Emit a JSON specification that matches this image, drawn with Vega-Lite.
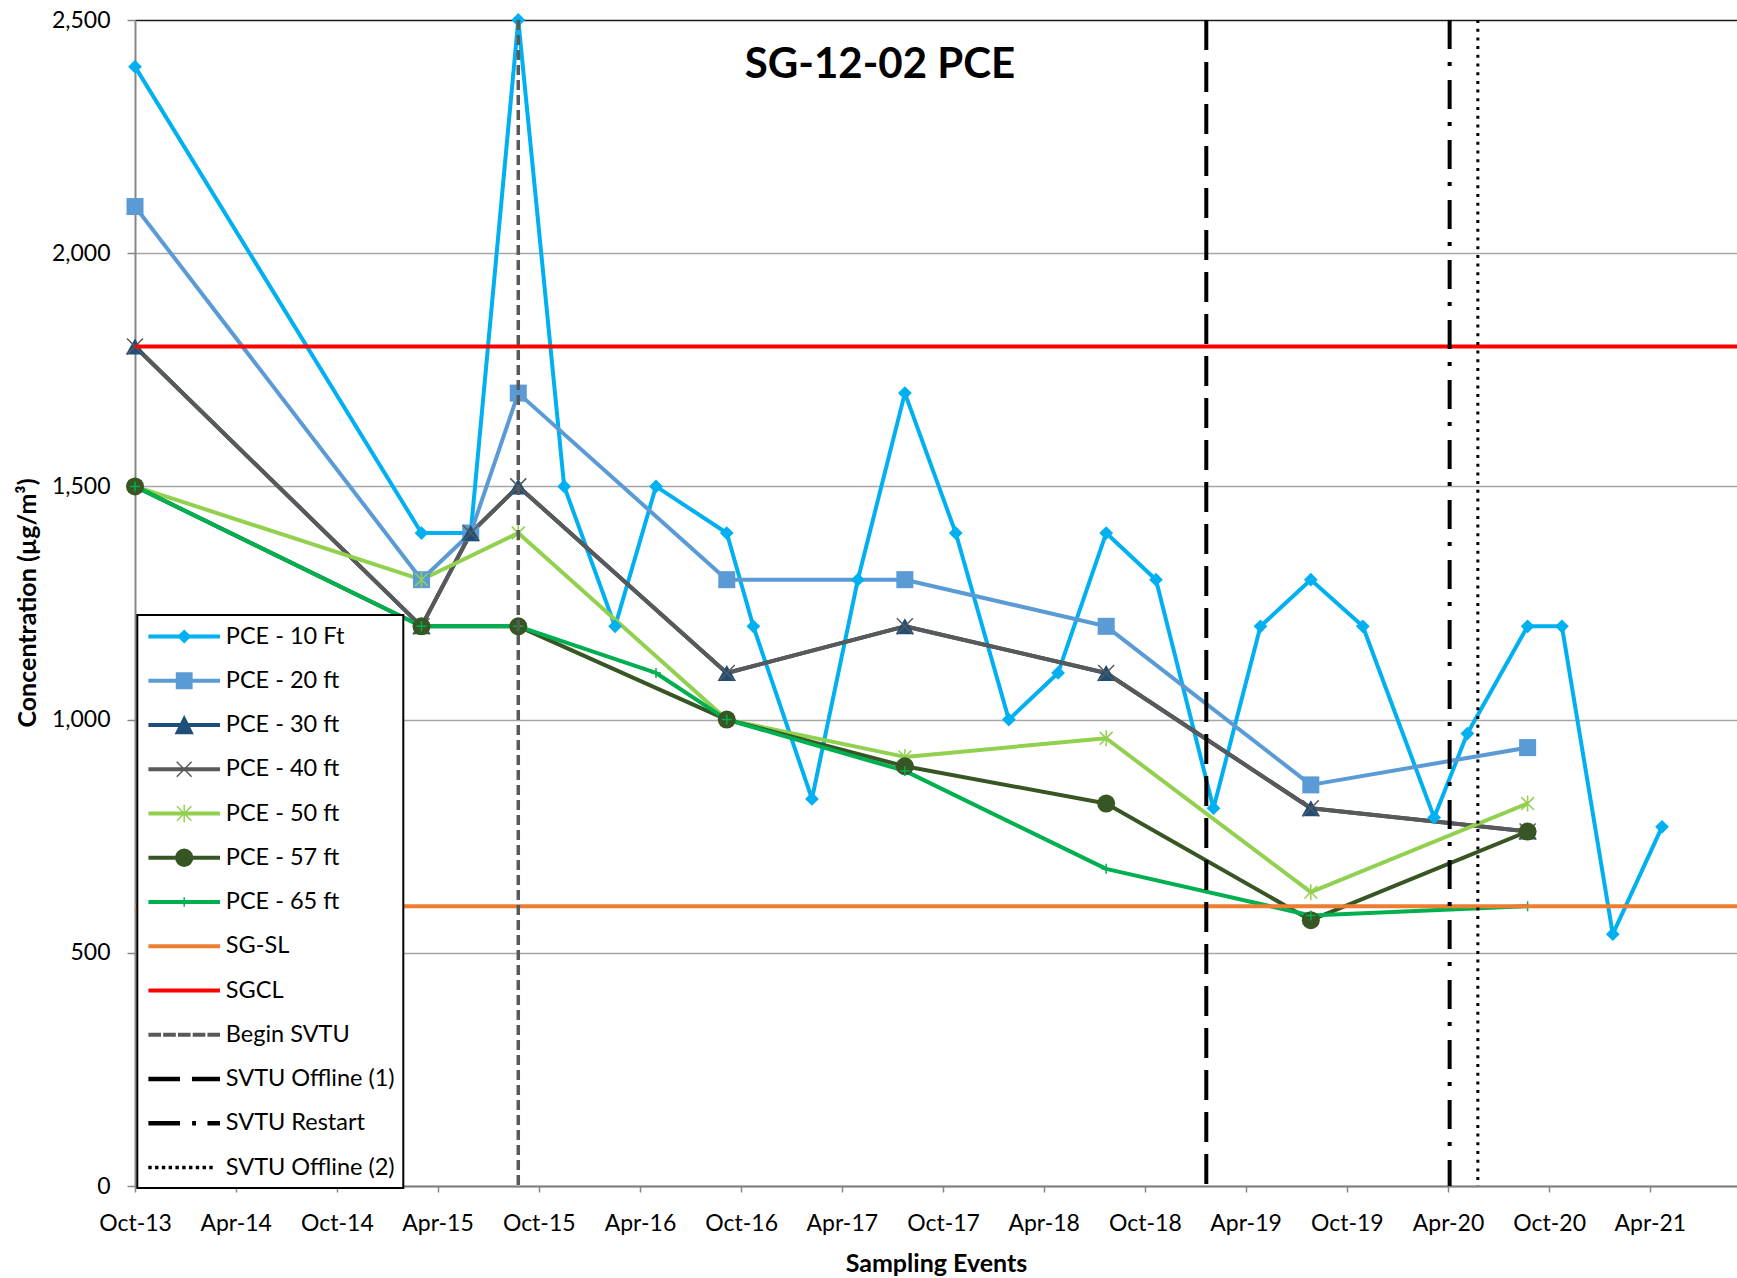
{
  "$schema": "https://vega.github.io/schema/vega-lite/v6.json",
  "autosize": "none",
  "width": 1602,
  "height": 1166,
  "padding": {"left": 135, "top": 20, "right": 0, "bottom": 92},
  "background": "white",
  "config": {
    "view": {"stroke": null},
    "font": "Lato",
    "legend": {"strokeWidth": 2}
  },
  "title": {
    "text": "SG-12-02 PCE",
    "font": "Lato",
    "fontSize": 42,
    "fontWeight": "bold",
    "color": "black",
    "anchor": "middle",
    "frame": "group",
    "orient": "top",
    "offset": 0,
    "dx": -56,
    "dy": 111,
    "baseline": "alphabetic"
  },
  "datasets": {
    "pts": [
      {"s": "PCE - 10 Ft", "d": "2013-10-01", "v": 2400},
      {"s": "PCE - 10 Ft", "d": "2015-03-03", "v": 1400},
      {"s": "PCE - 10 Ft", "d": "2015-05-31", "v": 1400},
      {"s": "PCE - 10 Ft", "d": "2015-08-25", "v": 2500},
      {"s": "PCE - 10 Ft", "d": "2015-11-16", "v": 1500},
      {"s": "PCE - 10 Ft", "d": "2016-02-16", "v": 1200},
      {"s": "PCE - 10 Ft", "d": "2016-04-30", "v": 1500},
      {"s": "PCE - 10 Ft", "d": "2016-09-05", "v": 1400},
      {"s": "PCE - 10 Ft", "d": "2016-10-23", "v": 1200},
      {"s": "PCE - 10 Ft", "d": "2017-02-06", "v": 830},
      {"s": "PCE - 10 Ft", "d": "2017-04-30", "v": 1300},
      {"s": "PCE - 10 Ft", "d": "2017-07-24", "v": 1700},
      {"s": "PCE - 10 Ft", "d": "2017-10-24", "v": 1400},
      {"s": "PCE - 10 Ft", "d": "2018-01-28", "v": 1000},
      {"s": "PCE - 10 Ft", "d": "2018-04-27", "v": 1100},
      {"s": "PCE - 10 Ft", "d": "2018-07-23", "v": 1400},
      {"s": "PCE - 10 Ft", "d": "2018-10-21", "v": 1300},
      {"s": "PCE - 10 Ft", "d": "2019-02-02", "v": 810},
      {"s": "PCE - 10 Ft", "d": "2019-04-28", "v": 1200},
      {"s": "PCE - 10 Ft", "d": "2019-07-28", "v": 1300},
      {"s": "PCE - 10 Ft", "d": "2019-10-30", "v": 1200},
      {"s": "PCE - 10 Ft", "d": "2020-03-07", "v": 790},
      {"s": "PCE - 10 Ft", "d": "2020-05-06", "v": 970},
      {"s": "PCE - 10 Ft", "d": "2020-08-23", "v": 1200},
      {"s": "PCE - 10 Ft", "d": "2020-10-24", "v": 1200},
      {"s": "PCE - 10 Ft", "d": "2021-01-24", "v": 540},
      {"s": "PCE - 10 Ft", "d": "2021-04-23", "v": 770},
      {"s": "PCE - 20 ft", "d": "2013-10-01", "v": 2100},
      {"s": "PCE - 20 ft", "d": "2015-03-03", "v": 1300},
      {"s": "PCE - 20 ft", "d": "2015-05-31", "v": 1400},
      {"s": "PCE - 20 ft", "d": "2015-08-25", "v": 1700},
      {"s": "PCE - 20 ft", "d": "2016-09-05", "v": 1300},
      {"s": "PCE - 20 ft", "d": "2017-07-24", "v": 1300},
      {"s": "PCE - 20 ft", "d": "2018-07-23", "v": 1200},
      {"s": "PCE - 20 ft", "d": "2019-07-28", "v": 860},
      {"s": "PCE - 20 ft", "d": "2020-08-23", "v": 940},
      {"s": "PCE - 30 ft", "d": "2013-10-01", "v": 1800},
      {"s": "PCE - 30 ft", "d": "2015-03-03", "v": 1200},
      {"s": "PCE - 30 ft", "d": "2015-05-31", "v": 1400},
      {"s": "PCE - 30 ft", "d": "2015-08-25", "v": 1500},
      {"s": "PCE - 30 ft", "d": "2016-09-05", "v": 1100},
      {"s": "PCE - 30 ft", "d": "2017-07-24", "v": 1200},
      {"s": "PCE - 30 ft", "d": "2018-07-23", "v": 1100},
      {"s": "PCE - 30 ft", "d": "2019-07-28", "v": 810},
      {"s": "PCE - 30 ft", "d": "2020-08-23", "v": 760},
      {"s": "PCE - 40 ft", "d": "2013-10-01", "v": 1800},
      {"s": "PCE - 40 ft", "d": "2015-03-03", "v": 1200},
      {"s": "PCE - 40 ft", "d": "2015-05-31", "v": 1400},
      {"s": "PCE - 40 ft", "d": "2015-08-25", "v": 1500},
      {"s": "PCE - 40 ft", "d": "2016-09-05", "v": 1100},
      {"s": "PCE - 40 ft", "d": "2017-07-24", "v": 1200},
      {"s": "PCE - 40 ft", "d": "2018-07-23", "v": 1100},
      {"s": "PCE - 40 ft", "d": "2019-07-28", "v": 810},
      {"s": "PCE - 40 ft", "d": "2020-08-23", "v": 760},
      {"s": "PCE - 50 ft", "d": "2013-10-01", "v": 1500},
      {"s": "PCE - 50 ft", "d": "2015-03-03", "v": 1300},
      {"s": "PCE - 50 ft", "d": "2015-08-25", "v": 1400},
      {"s": "PCE - 50 ft", "d": "2016-09-05", "v": 1000},
      {"s": "PCE - 50 ft", "d": "2017-07-24", "v": 920},
      {"s": "PCE - 50 ft", "d": "2018-07-23", "v": 960},
      {"s": "PCE - 50 ft", "d": "2019-07-28", "v": 630},
      {"s": "PCE - 50 ft", "d": "2020-08-23", "v": 820},
      {"s": "PCE - 57 ft", "d": "2013-10-01", "v": 1500},
      {"s": "PCE - 57 ft", "d": "2015-03-03", "v": 1200},
      {"s": "PCE - 57 ft", "d": "2015-08-25", "v": 1200},
      {"s": "PCE - 57 ft", "d": "2016-09-05", "v": 1000},
      {"s": "PCE - 57 ft", "d": "2017-07-24", "v": 900},
      {"s": "PCE - 57 ft", "d": "2018-07-23", "v": 820},
      {"s": "PCE - 57 ft", "d": "2019-07-28", "v": 570},
      {"s": "PCE - 57 ft", "d": "2020-08-23", "v": 760},
      {"s": "PCE - 65 ft", "d": "2013-10-01", "v": 1500},
      {"s": "PCE - 65 ft", "d": "2015-03-03", "v": 1200},
      {"s": "PCE - 65 ft", "d": "2015-08-25", "v": 1200},
      {"s": "PCE - 65 ft", "d": "2016-04-30", "v": 1100},
      {"s": "PCE - 65 ft", "d": "2016-09-05", "v": 1000},
      {"s": "PCE - 65 ft", "d": "2017-07-24", "v": 890},
      {"s": "PCE - 65 ft", "d": "2018-07-23", "v": 680},
      {"s": "PCE - 65 ft", "d": "2019-07-28", "v": 580},
      {"s": "PCE - 65 ft", "d": "2020-08-23", "v": 600}
    ],
    "hrefs": [
      {"s": "SG-SL", "v": 600},
      {"s": "SGCL", "v": 1800}
    ],
    "vrefs": [
      {"s": "Begin SVTU", "d": "2015-08-25"},
      {"s": "SVTU Offline (1)", "d": "2019-01-20"},
      {"s": "SVTU Restart", "d": "2020-04-04"},
      {"s": "SVTU Offline (2)", "d": "2020-05-25"}
    ]
  },
  "layer": [
    {
      "data": {"name": "hrefs"},
      "transform": [{"filter": "false"}],
      "mark": {"type": "point", "filled": true, "size": 576, "strokeWidth": 1.5, "opacity": 1},
      "encoding": {
        "color": {
          "field": "s", "type": "nominal",
          "scale": {
            "domain": ["PCE - 10 Ft", "PCE - 20 ft", "PCE - 30 ft", "PCE - 40 ft", "PCE - 50 ft", "PCE - 57 ft", "PCE - 65 ft", "SG-SL", "SGCL", "Begin SVTU", "SVTU Offline (1)", "SVTU Restart", "SVTU Offline (2)"],
            "range": ["#00B0F0", "#5B9BD5", "#1F4E79", "#595959", "#92D050", "#375623", "#00B050", "#ED7D31", "#FF0000", "#595959", "#000000", "#000000", "#000000"]
          },
          "legend": {"orient": "none", "legendX": 2.3, "legendY": 595, "title": null, "padding": 8.5, "rowPadding": 19.25, "symbolOffset": 25.4, "labelOffset": 28.6, "labelFont": "Lato", "labelFontSize": 23.5, "labelColor": "black", "labelLimit": 400, "strokeColor": "black", "fillColor": "white", "zindex": 1, "symbolSize": 576, "symbolStrokeWidth": 1.5, "symbolOpacity": 1}
        },
        "stroke": {
          "field": "s", "type": "nominal",
          "scale": {
            "domain": ["PCE - 10 Ft", "PCE - 20 ft", "PCE - 30 ft", "PCE - 40 ft", "PCE - 50 ft", "PCE - 57 ft", "PCE - 65 ft", "SG-SL", "SGCL", "Begin SVTU", "SVTU Offline (1)", "SVTU Restart", "SVTU Offline (2)"],
            "range": ["#00B0F0", "#5B9BD5", "#1F4E79", "#595959", "#92D050", "#375623", "#00B050", "#ED7D31", "#FF0000", "#595959", "#000000", "#000000", "#000000"]
          },
          "legend": {"orient": "none", "legendX": 2.3, "legendY": 595, "title": null, "padding": 8.5, "rowPadding": 19.25, "symbolOffset": 25.4, "labelOffset": 28.6, "labelFont": "Lato", "labelFontSize": 23.5, "labelColor": "black", "labelLimit": 400, "strokeColor": "black", "fillColor": "white", "zindex": 1, "symbolSize": 576, "symbolStrokeWidth": 1.5, "symbolOpacity": 1}
        },
        "shape": {
          "field": "s", "type": "nominal",
          "scale": {
            "domain": ["PCE - 10 Ft", "PCE - 20 ft", "PCE - 30 ft", "PCE - 40 ft", "PCE - 50 ft", "PCE - 57 ft", "PCE - 65 ft", "SG-SL", "SGCL", "Begin SVTU", "SVTU Offline (1)", "SVTU Restart", "SVTU Offline (2)"],
            "range": [
              "M-2.92,-0.11H2.92V0.11H-2.92ZM0,-0.5L0.5,0L0,0.5L-0.5,0Z",
              "M-2.92,-0.11H2.92V0.11H-2.92ZM-0.64,-0.64H0.64V0.64H-0.64Z",
              "M-2.92,-0.11H2.92V0.11H-2.92ZM0,-0.7L0.7,0.7H-0.7Z",
              "M-2.92,-0.11H2.92V0.11H-2.92ZM-0.62,-0.62L0.62,0.62M-0.62,0.62L0.62,-0.62",
              "M-2.92,-0.11H2.92V0.11H-2.92ZM-0.6,-0.6L0.6,0.6M-0.6,0.6L0.6,-0.6M0,-0.72V0.72",
              "M-2.92,-0.11H2.92V0.11H-2.92ZM0.7,0A0.7,0.7,0,1,1,-0.7,0A0.7,0.7,0,1,1,0.7,0Z",
              "M-2.92,-0.11H2.92V0.11H-2.92ZM0,-0.4V0.4",
              "M-2.92,-0.11H2.92V0.11H-2.92Z",
              "M-2.92,-0.11H2.92V0.11H-2.92Z",
              "M-2.92,-0.1H-1.99V0.1H-2.92ZM-1.69,-0.1H-0.76V0.1H-1.69ZM-0.46,-0.1H0.47V0.1H-0.46ZM0.77,-0.1H1.7V0.1H0.77ZM2,-0.1H2.92V0.1H2Z",
              "M-2.92,-0.13H-0.41V0.13H-2.92ZM0.71,-0.13H2.92V0.13H0.71Z",
              "M-2.92,-0.13H-0.41V0.13H-2.92ZM0.72,-0.13H0.92V0.13H0.72ZM2,-0.13H2.92V0.13H2Z",
              "M-2.93,-0.08H-2.77V0.08H-2.93ZM-2.365,-0.08H-2.205V0.08H-2.365ZM-1.8,-0.08H-1.64V0.08H-1.8ZM-1.235,-0.08H-1.075V0.08H-1.235ZM-0.67,-0.08H-0.51V0.08H-0.67ZM-0.105,-0.08H0.055V0.08H-0.105ZM0.46,-0.08H0.62V0.08H0.46ZM1.025,-0.08H1.185V0.08H1.025ZM1.59,-0.08H1.75V0.08H1.59ZM2.155,-0.08H2.315V0.08H2.155Z"
            ]
          },
          "legend": {"orient": "none", "legendX": 2.3, "legendY": 595, "title": null, "padding": 8.5, "rowPadding": 19.25, "symbolOffset": 25.4, "labelOffset": 28.6, "labelFont": "Lato", "labelFontSize": 23.5, "labelColor": "black", "labelLimit": 400, "strokeColor": "black", "fillColor": "white", "zindex": 1, "symbolSize": 576, "symbolStrokeWidth": 1.5, "symbolOpacity": 1}
        }
      }
    },
    {
      "data": {"name": "pts"},
      "mark": {"type": "line", "strokeWidth": 4, "strokeJoin": "round"},
      "encoding": {
        "x": {
          "field": "d", "type": "temporal",
          "scale": {"type": "utc", "domain": [{"year": 2013, "month": 10, "date": 1, "utc": true}, {"year": 2021, "month": 9, "date": 5, "hours": 14, "utc": true}]},
          "axis": {
            "values": [
              {"year": 2013, "month": 10, "date": 1, "utc": true},
              {"year": 2014, "month": 4, "date": 1, "utc": true},
              {"year": 2014, "month": 10, "date": 1, "utc": true},
              {"year": 2015, "month": 4, "date": 1, "utc": true},
              {"year": 2015, "month": 10, "date": 1, "utc": true},
              {"year": 2016, "month": 4, "date": 1, "utc": true},
              {"year": 2016, "month": 10, "date": 1, "utc": true},
              {"year": 2017, "month": 4, "date": 1, "utc": true},
              {"year": 2017, "month": 10, "date": 1, "utc": true},
              {"year": 2018, "month": 4, "date": 1, "utc": true},
              {"year": 2018, "month": 10, "date": 1, "utc": true},
              {"year": 2019, "month": 4, "date": 1, "utc": true},
              {"year": 2019, "month": 10, "date": 1, "utc": true},
              {"year": 2020, "month": 4, "date": 1, "utc": true},
              {"year": 2020, "month": 10, "date": 1, "utc": true},
              {"year": 2021, "month": 4, "date": 1, "utc": true}
            ],
            "format": "%b-%y",
            "grid": false,
            "labelFlush": false,
            "labelFont": "Lato",
            "labelFontSize": 23,
            "labelColor": "black",
            "labelOverlap": false,
            "labelPadding": 20,
            "tickSize": 6,
            "tickColor": "#868686",
            "tickWidth": 1.5,
            "domainColor": "#7f7f7f",
            "domainWidth": 2,
            "title": "Sampling Events",
            "titleFont": "Lato",
            "titleFontSize": 25,
            "titleFontWeight": "bold",
            "titleColor": "black",
            "titleY": 77,
            "titleBaseline": "middle"
          }
        },
        "y": {
          "field": "v", "type": "quantitative",
          "scale": {"domain": [0, 2500], "nice": false},
          "axis": {
            "values": [0, 500, 1000, 1500, 2000, 2500],
            "format": ",.0f",
            "grid": true,
            "gridColor": {"condition": {"test": "datum.value === 2500", "value": "#1a1a1a"}, "value": "#a6a6a6"},
            "gridWidth": 1.5,
            "labelFont": "Lato",
            "labelFontSize": 23,
            "labelColor": "black",
            "labelPadding": 17,
            "tickSize": 8,
            "tickColor": "#868686",
            "tickWidth": 1.5,
            "domainColor": "#868686",
            "domainWidth": 2,
            "title": "Concentration (µg/m³)",
            "titleFont": "Lato",
            "titleFontSize": 25,
            "titleFontWeight": "bold",
            "titleColor": "black",
            "titleAngle": -90,
            "titleX": -108,
            "titleY": 582.5,
            "titleAlign": "center",
            "titleBaseline": "middle"
          }
        },
        "color": {"field": "s", "type": "nominal"}
      }
    },
    {
      "data": {"name": "pts"},
      "transform": [{"filter": "datum.s === 'PCE - 10 Ft'"}],
      "mark": {"type": "point", "shape": "diamond", "filled": true, "size": 190, "opacity": 1},
      "encoding": {
        "x": {"field": "d", "type": "temporal"},
        "y": {"field": "v", "type": "quantitative"},
        "color": {"field": "s", "type": "nominal"}
      }
    },
    {
      "data": {"name": "pts"},
      "transform": [{"filter": "datum.s === 'PCE - 20 ft'"}],
      "mark": {"type": "point", "shape": "square", "filled": true, "size": 290, "opacity": 1},
      "encoding": {
        "x": {"field": "d", "type": "temporal"},
        "y": {"field": "v", "type": "quantitative"},
        "color": {"field": "s", "type": "nominal"}
      }
    },
    {
      "data": {"name": "pts"},
      "transform": [{"filter": "datum.s === 'PCE - 30 ft'"}],
      "mark": {"type": "point", "shape": "triangle-up", "filled": true, "size": 340, "opacity": 1},
      "encoding": {
        "x": {"field": "d", "type": "temporal"},
        "y": {"field": "v", "type": "quantitative"},
        "color": {"field": "s", "type": "nominal"}
      }
    },
    {
      "data": {"name": "pts"},
      "transform": [{"filter": "datum.s === 'PCE - 40 ft'"}],
      "mark": {"type": "point", "shape": "M-1,-1L1,1M-1,1L1,-1", "filled": false, "size": 256, "strokeWidth": 1.5, "opacity": 1},
      "encoding": {
        "x": {"field": "d", "type": "temporal"},
        "y": {"field": "v", "type": "quantitative"},
        "color": {"field": "s", "type": "nominal"}
      }
    },
    {
      "data": {"name": "pts"},
      "transform": [{"filter": "datum.s === 'PCE - 50 ft'"}],
      "mark": {"type": "point", "shape": "M-0.8,-0.8L0.8,0.8M-0.8,0.8L0.8,-0.8M0,-1V1", "filled": false, "size": 256, "strokeWidth": 1.5, "opacity": 1},
      "encoding": {
        "x": {"field": "d", "type": "temporal"},
        "y": {"field": "v", "type": "quantitative"},
        "color": {"field": "s", "type": "nominal"}
      }
    },
    {
      "data": {"name": "pts"},
      "transform": [{"filter": "datum.s === 'PCE - 57 ft'"}],
      "mark": {"type": "point", "shape": "circle", "filled": true, "size": 324, "opacity": 1},
      "encoding": {
        "x": {"field": "d", "type": "temporal"},
        "y": {"field": "v", "type": "quantitative"},
        "color": {"field": "s", "type": "nominal"}
      }
    },
    {
      "data": {"name": "pts"},
      "transform": [{"filter": "datum.s === 'PCE - 65 ft'"}],
      "mark": {"type": "point", "shape": "M-1,0H1M0,-1V1", "filled": false, "size": 100, "strokeWidth": 1.5, "opacity": 1},
      "encoding": {
        "x": {"field": "d", "type": "temporal"},
        "y": {"field": "v", "type": "quantitative"},
        "color": {"field": "s", "type": "nominal"}
      }
    },
    {
      "data": {"name": "hrefs"},
      "mark": {"type": "rule", "strokeWidth": 4},
      "encoding": {
        "y": {"field": "v", "type": "quantitative"},
        "color": {"field": "s", "type": "nominal"}
      }
    },
    {
      "data": {"name": "vrefs"},
      "transform": [{"filter": "datum.s === 'Begin SVTU'"}],
      "mark": {"type": "rule", "strokeWidth": 3.5, "strokeDash": [10, 5]},
      "encoding": {
        "x": {"field": "d", "type": "temporal"},
        "color": {"field": "s", "type": "nominal"}
      }
    },
    {
      "data": {"name": "vrefs"},
      "transform": [{"filter": "datum.s === 'SVTU Offline (1)'"}],
      "mark": {"type": "rule", "strokeWidth": 4, "strokeDash": [30, 12]},
      "encoding": {
        "x": {"field": "d", "type": "temporal"},
        "color": {"field": "s", "type": "nominal"}
      }
    },
    {
      "data": {"name": "vrefs"},
      "transform": [{"filter": "datum.s === 'SVTU Restart'"}],
      "mark": {"type": "rule", "strokeWidth": 4, "strokeDash": [29, 13, 4, 14]},
      "encoding": {
        "x": {"field": "d", "type": "temporal"},
        "color": {"field": "s", "type": "nominal"}
      }
    },
    {
      "data": {"name": "vrefs"},
      "transform": [{"filter": "datum.s === 'SVTU Offline (2)'"}],
      "mark": {"type": "rule", "strokeWidth": 3, "strokeDash": [3, 5.7]},
      "encoding": {
        "x": {"field": "d", "type": "temporal"},
        "color": {"field": "s", "type": "nominal"}
      }
    }
  ]
}
